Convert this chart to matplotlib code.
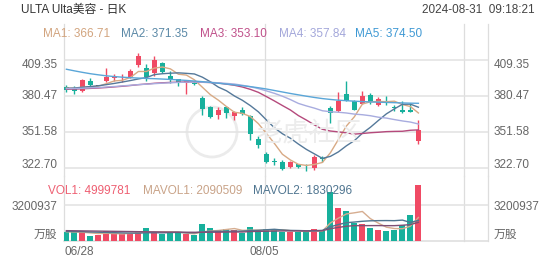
import matplotlib
matplotlib.use("Agg")
import matplotlib.pyplot as plt
from matplotlib import transforms
from matplotlib.patches import Ellipse
import pandas as pd

plt.rcParams['font.family'] = ['Liberation Sans', 'Noto Sans CJK SC', 'DejaVu Sans']

# trading days 06/28 - 08/30 (no 07/04)
fechas = pd.bdate_range('2024-06-28', '2024-08-30').drop(pd.Timestamp('2024-07-04'))
etiquetas = [d.strftime('%m/%d') for d in fechas]
mostrar = [0, 25]

apertura = [387.3, 386.5, 384.6, 392.6, 388.6, 392.1, 395.0, 395.4, 396.0, 405.1,
            403.2, 399.2, 406.7, 396.6, 394.0, 391.0, 390.8, 379.1, 371.9, 364.7,
            371.3, 363.9, 369.3, 363.9, 346.1, 333.4, 327.8, 327.3, 322.9, 325.6,
            323.5, 322.1, 330.6, 371.1, 368.1, 382.0, 376.5, 374.3, 381.5, 373.5,
            376.4, 371.3, 368.9, 368.9, 344.0]
maximo = [389.2, 388.6, 394.4, 395.2, 388.6, 403.2, 397.9, 397.9, 402.4, 415.2,
          405.9, 412.5, 407.8, 400.6, 394.3, 392.6, 392.6, 380.7, 372.7, 371.3,
          372.7, 368.2, 371.3, 364.7, 348.0, 335.5, 330.2, 328.8, 328.0, 326.0,
          325.6, 332.8, 332.4, 372.7, 383.3, 392.6, 377.5, 384.4, 383.0, 379.5,
          380.7, 373.1, 376.7, 374.7, 361.3]
minimo = [383.3, 382.0, 383.8, 388.6, 388.6, 391.3, 392.6, 392.0, 395.2, 404.0,
          392.6, 396.6, 399.2, 390.8, 388.6, 382.0, 389.0, 364.7, 362.9, 362.1,
          362.9, 361.3, 364.7, 345.3, 338.2, 326.8, 324.9, 320.9, 322.1, 322.5,
          320.1, 320.5, 327.6, 358.6, 367.3, 376.3, 368.9, 373.9, 374.3, 372.7,
          373.1, 368.1, 366.9, 367.1, 342.0]
cierre = [385.4, 384.7, 393.2, 389.2, 388.6, 395.8, 395.8, 395.8, 400.6, 412.5,
          395.8, 409.35, 400.0, 393.2, 391.3, 392.2, 390.2, 370.1, 363.4, 369.3,
          366.5, 367.4, 365.5, 350.1, 340.8, 327.5, 327.3, 321.8, 327.3, 322.9,
          323.0, 331.5, 330.0, 366.3, 376.4, 376.7, 369.3, 380.7, 375.3, 378.0,
          375.9, 370.9, 367.3, 367.3, 352.8]

ma1 = [386.8, 386.6, 387.4, 387.8, 388.2, 390.3, 392.5, 393.0, 395.3, 400.1,
       400.1, 402.8, 403.7, 402.2, 397.9, 397.2, 393.4, 387.4, 381.4, 377.0,
       371.9, 367.3, 366.4, 363.8, 358.1, 350.3, 342.2, 333.5, 328.9, 325.4,
       324.5, 325.3, 326.9, 334.7, 345.4, 356.2, 363.7, 373.9, 375.7, 376.0,
       375.8, 376.2, 373.5, 371.9, 366.71]
ma2 = [386.5, 386.8, 387.4, 388.0, 388.6, 389.5, 390.5, 391.6, 392.8, 394.1,
       395.2, 397.6, 398.3, 398.7, 399.0, 398.6, 398.1, 395.5, 391.8, 387.5,
       384.6, 380.4, 376.9, 372.6, 367.6, 361.1, 354.8, 350.0, 346.4, 341.7,
       337.4, 333.8, 330.2, 331.8, 335.4, 340.3, 344.5, 350.4, 355.2, 360.7,
       366.0, 370.0, 373.7, 373.8, 371.35]
ma3 = [385.8, 385.9, 386.2, 386.5, 386.8, 387.2, 387.7, 388.2, 388.8, 389.5,
       390.0, 390.6, 391.0, 391.3, 391.5, 391.7, 391.7, 391.4, 391.2, 390.8,
       389.9, 389.0, 387.6, 385.7, 383.3, 379.9, 376.4, 372.7, 369.1, 364.6,
       361.0, 357.1, 353.6, 352.2, 351.5, 350.7, 349.7, 350.2, 350.8, 351.2,
       351.7, 351.9, 352.0, 352.8, 353.10]
ma4 = [386.3, 386.4, 386.6, 386.9, 387.2, 387.6, 388.0, 388.5, 389.0, 389.5,
       389.9, 390.3, 390.7, 391.0, 391.3, 391.5, 391.6, 391.5, 391.3, 391.0,
       390.5, 390.0, 389.0, 387.8, 386.3, 384.5, 382.5, 380.2, 377.5, 374.4,
       372.4, 370.6, 368.5, 367.7, 367.3, 366.7, 365.8, 365.3, 364.5, 363.3,
       362.6, 361.4, 360.3, 359.4, 357.84]
ma5 = [401.9, 400.6, 399.4, 398.3, 397.4, 396.6, 396.0, 395.5, 395.1, 394.8,
       394.5, 394.3, 394.0, 393.7, 393.3, 392.9, 392.4, 391.9, 391.3, 390.6,
       390.0, 389.3, 388.6, 387.9, 387.0, 386.0, 384.8, 383.6, 382.4, 381.3,
       380.2, 379.2, 378.3, 377.6, 377.0, 376.6, 376.2, 375.9, 375.6, 375.4,
       375.2, 375.0, 374.8, 374.6, 374.50]

volumen = [773e3, 773e3, 773e3, 445e3, 534e3, 889e3, 652e3, 652e3, 652e3, 830e3,
           1126e3, 800e3, 652e3, 711e3, 711e3, 593e3, 534e3, 1482e3, 1126e3, 948e3,
           1037e3, 948e3, 682e3, 1215e3, 948e3, 1067e3, 978e3, 830e3, 771e3, 830e3,
           830e3, 1067e3, 919e3, 4384e3, 2963e3, 2697e3, 1571e3, 1512e3, 1185e3, 978e3,
           889e3, 978e3, 1423e3, 2312e3, 4999781]
mavol1 = [820e3, 800e3, 780e3, 720e3, 660e3, 683e3, 659e3, 634e3, 676e3, 735e3,
          782e3, 812e3, 812e3, 824e3, 800e3, 693e3, 640e3, 806e3, 889e3, 937e3,
          1025e3, 1108e3, 948e3, 966e3, 966e3, 972e3, 978e3, 1008e3, 919e3, 895e3,
          848e3, 866e3, 883e3, 1606e3, 2033e3, 2406e3, 2507e3, 2625e3, 1986e3, 1589e3,
          1227e3, 1108e3, 1091e3, 1316e3, 2090509]
mavol2 = [850e3, 840e3, 830e3, 800e3, 780e3, 760e3, 740e3, 720e3, 705e3, 697e3,
          733e3, 735e3, 723e3, 750e3, 768e3, 738e3, 726e3, 809e3, 857e3, 868e3,
          859e3, 874e3, 877e3, 928e3, 951e3, 999e3, 1043e3, 978e3, 942e3, 931e3,
          910e3, 922e3, 946e3, 1262e3, 1464e3, 1627e3, 1686e3, 1754e3, 1796e3, 1811e3,
          1817e3, 1808e3, 1858e3, 1651e3, 1830296]
mavol3 = [920e3, 910e3, 900e3, 890e3, 880e3, 870e3, 860e3, 850e3, 840e3, 830e3,
          820e3, 810e3, 800e3, 790e3, 785e3, 780e3, 775e3, 775e3, 780e3, 783e3,
          796e3, 805e3, 800e3, 839e3, 859e3, 868e3, 885e3, 894e3, 899e3, 899e3,
          885e3, 898e3, 911e3, 1095e3, 1208e3, 1313e3, 1365e3, 1366e3, 1369e3, 1371e3,
          1363e3, 1365e3, 1402e3, 1457e3, 1659e3]

niveles_precio = [409.35, 380.47, 351.58, 322.70]
nivel_vol = 3200937

rojo = '#f04a64'
verde = '#17b09c'
col_ma = ['#d8aa85', '#55799a', '#b54a7c', '#a8acdf', '#5aa6d8']
col_ma_txt = ['#d2a47e', '#5a88a6', '#c0508a', '#a3a7da', '#3f99d4']
gris_linea = '#e2e2e2'
gris_txt = '#666666'

W, H = 552, 265
def fx(px):
    return px / W
def fy(py):
    return 1 - py / H

fig = plt.figure(figsize=(5.52, 2.65), dpi=100)
ax = fig.add_axes([fx(64), fy(176), (488 - 64) / W, (176 - 24) / H])
axv = fig.add_axes([fx(64), fy(241), (488 - 64) / W, (241 - 176) / H])

n = len(cierre)
x = list(range(n))
for a in (ax, axv):
    a.set_xlim(-0.3, 52.7)
    a.axis('off')
    for xv in (-0.3, 24.8, 49.7, 52.7):
        a.axvline(xv, color='#dddddd', lw=0.9, zorder=0, clip_on=False)

ax.set_ylim(316.0, 438.3)
axv.set_ylim(0, 65 * 88915)

for nv in niveles_precio:
    ax.axhline(nv, color=gris_linea, lw=1.1, zorder=0)
axv.axhline(nivel_vol, color=gris_linea, lw=1.1, zorder=0)
axv.axhline(0, color='#dddddd', lw=1.1, zorder=0, clip_on=False)

# watermark
fig.add_artist(Ellipse((fx(212), fy(132)), 50 / W, 50 / H, fill=False,
                       ec='#ebebeb', lw=2.0, zorder=0))
fig.text(fx(309), fy(133), '老虎社区', fontsize=19, color='#ececec',
         ha='center', va='center', zorder=0, style='italic')

# candles
for i in x:
    o, h, l, c = apertura[i], maximo[i], minimo[i], cierre[i]
    if c > o:
        col = rojo
    elif c < o:
        col = verde
    else:
        col = '#222222'
    ax.vlines(i, l, h, color=col, lw=1.0, zorder=3)
    alto = max(abs(c - o), 0.6)
    ax.bar(i, alto, bottom=min(o, c) - (alto - abs(c - o)) / 2, width=0.72,
           color=col, zorder=4, linewidth=0)

for serie, col in zip([ma1, ma2, ma3, ma4, ma5], col_ma):
    ax.plot(x, serie, color=col, lw=1.0, zorder=5)

col_vol = [rojo if cierre[i] >= apertura[i] else verde for i in x]
axv.bar(x, volumen, width=0.75, color=col_vol, linewidth=0, zorder=2)
axv.plot(x, mavol1, color='#d6ad90', lw=1.0, zorder=3)
axv.plot(x, mavol2, color='#4f7590', lw=1.0, zorder=3)
axv.plot(x, mavol3, color='#7e4f74', lw=1.0, zorder=3)

# axis labels
fs = 8.5
tr_izq = transforms.blended_transform_factory(fig.transFigure, ax.transData)
for nv in niveles_precio:
    va = 'top' if nv == niveles_precio[0] else 'center'
    yv = nv + 0.6 if va == 'top' else nv
    if nv == niveles_precio[-1]:
        yv = nv + 2.0
    txt = '%.2f' % nv
    ax.text(fx(57.5), yv, txt, transform=tr_izq, ha='right', va=va, fontsize=fs, color=gris_txt)
    ax.text(fx(494), yv, txt, transform=tr_izq, ha='left', va=va, fontsize=fs, color=gris_txt)

tr_vol = transforms.blended_transform_factory(fig.transFigure, axv.transData)
for xpos, ha in ((57.5, 'right'), (494, 'left')):
    axv.text(fx(xpos), nivel_vol - 2.3 * 88915, str(nivel_vol), transform=tr_vol,
             ha=ha, va='center', fontsize=fs, color=gris_txt)
    axv.text(fx(xpos), 0, '万股', transform=tr_vol, ha=ha, va='bottom',
             fontsize=fs, color=gris_txt)

tr_fecha = transforms.blended_transform_factory(axv.transData, fig.transFigure)
for k in mostrar:
    ha = 'left' if k == 0 else 'center'
    xv = -0.25 if k == 0 else 24.8
    axv.text(xv, fy(252), etiquetas[k], transform=tr_fecha, ha=ha, va='center',
             fontsize=fs, color=gris_txt)

# header
fig.text(fx(21), fy(10), 'ULTA Ulta美容 - 日K', fontsize=8.5, color='#333333', va='center')
fig.text(fx(535), fy(10), '2024-08-31  09:18:21', fontsize=8.5, color='#444444',
         va='center', ha='right')

ma_pos = [43, 121, 199.5, 278.7, 355.3]
for k, serie in enumerate([ma1, ma2, ma3, ma4, ma5]):
    fig.text(fx(ma_pos[k]), fy(34), 'MA%d: %.2f' % (k + 1, serie[-1]), fontsize=fs,
             color=col_ma_txt[k], va='center')

fig.text(fx(48.5), fy(191), 'VOL1: %d' % volumen[-1], fontsize=fs, color='#ee5f72', va='center')
fig.text(fx(143.3), fy(191), 'MAVOL1: %d' % mavol1[-1], fontsize=fs, color='#c9a388', va='center')
fig.text(fx(253.3), fy(191), 'MAVOL2: %d' % mavol2[-1], fontsize=fs, color='#4f7590', va='center')

fig.savefig('out.png', dpi=100)
